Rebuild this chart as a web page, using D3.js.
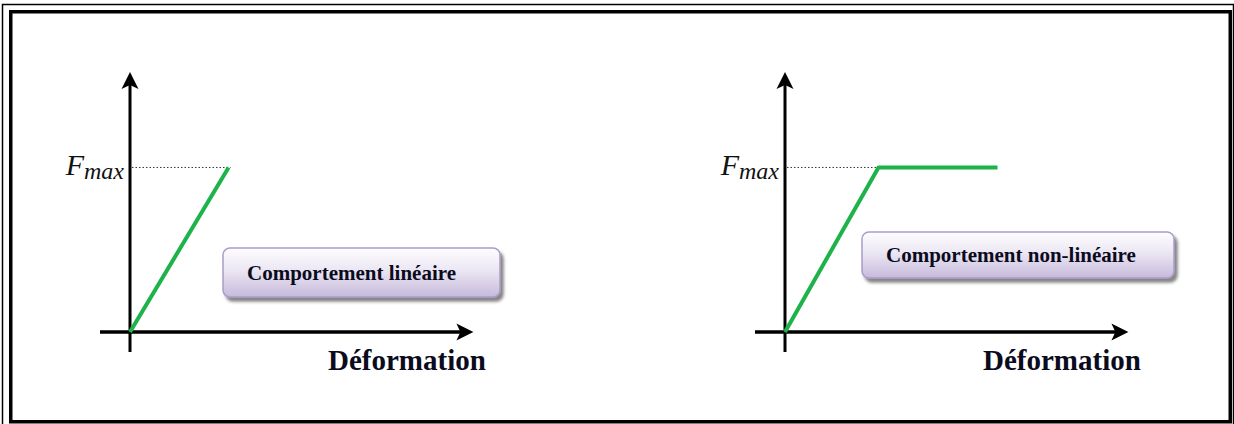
<!DOCTYPE html>
<html>
<head>
<meta charset="utf-8">
<script src="https://cdn.jsdelivr.net/npm/d3@7"></script>
<style>
  body { margin: 0; background: #fff; }
  svg { display: block; }
  .box-text { font-family: "Liberation Serif", "Times New Roman", serif; font-weight: bold; font-size: 21px; fill: #0b0b1e; }
  .axis-label { font-family: "Liberation Serif", "Times New Roman", serif; font-weight: bold; font-size: 29px; fill: #0b0b1e; }
  .fmax { font-family: "Liberation Serif", "Times New Roman", serif; font-style: italic; fill: #111; }
</style>
</head>
<body>
<div id="chart"></div>
<script>
// data
var panelTitles = ["Comportement linéaire", "Comportement non-linéaire"];
var axisLabel = "Déformation";
var forceLabel = "F", forceSub = "max";
var linearDeformation = [0, 2.9];
var linearForce = [0, 1];
var nonLinearDeformation = [0, 2.75, 6.25];
var nonLinearForce = [0, 1, 1];
var fMax = 1;

var width = 1234, height = 424;

var svg = d3.select("#chart").append("svg")
    .attr("width", width)
    .attr("height", height);

var defs = svg.append("defs");

var grad = defs.append("linearGradient")
    .attr("id", "boxGrad")
    .attr("x1", 0).attr("y1", 0).attr("x2", 0).attr("y2", 1);
grad.append("stop").attr("offset", "0%").attr("stop-color", "#fefdff");
grad.append("stop").attr("offset", "45%").attr("stop-color", "#ece7f3");
grad.append("stop").attr("offset", "100%").attr("stop-color", "#c6badb");

var shadow = defs.append("filter")
    .attr("id", "shadow")
    .attr("x", "-10%").attr("y", "-20%")
    .attr("width", "130%").attr("height", "160%");
shadow.append("feDropShadow")
    .attr("dx", 3).attr("dy", 4)
    .attr("stdDeviation", 1.5)
    .attr("flood-color", "#444")
    .attr("flood-opacity", 0.65);

// double frame
svg.append("rect")
    .attr("x", 2.5).attr("y", 4.5)
    .attr("width", 1231).attr("height", 430)
    .attr("fill", "none")
    .attr("stroke", "#000")
    .attr("stroke-width", 1.5);
svg.append("rect")
    .attr("x", 10.75).attr("y", 11.75)
    .attr("width", 1219.5).attr("height", 410)
    .attr("fill", "none")
    .attr("stroke", "#000")
    .attr("stroke-width", 3.5);

// scales shared by both panels (local to each panel's origin)
var x = d3.scaleLinear().domain([0, 10]).range([0, 340]);
var y = d3.scaleLinear().domain([0, 1.58]).range([332, 72]);

var panels = [
  {ox: 130, xs: linearDeformation, ys: linearForce, title: panelTitles[0],
   box: {x: 223, y: 248, w: 277, h: 49}, labelX: 328},
  {ox: 785, xs: nonLinearDeformation, ys: nonLinearForce, title: panelTitles[1],
   box: {x: 862, y: 232, w: 312, h: 46}, labelX: 983}
];

panels.forEach(function (p) {
    var g = svg.append("g")
        .attr("transform", "translate(" + p.ox + ",0)");

    var x0 = x(0), yTop = y(1.58), y0 = y(0);
    var xEnd = x(10.1);

    // axes
    g.append("line")
        .attr("x1", x0).attr("x2", x0)
        .attr("y1", y0 + 20).attr("y2", yTop + 12)
        .attr("stroke", "#000").attr("stroke-width", 3);
    g.append("line")
        .attr("x1", x0 - 30).attr("x2", xEnd - 12)
        .attr("y1", y0).attr("y2", y0)
        .attr("stroke", "#000").attr("stroke-width", 3.5);

    // arrow heads
    g.append("path")
        .attr("d", "M" + x0 + "," + yTop +
            "L" + (x0 + 8.5) + "," + (yTop + 17) +
            "L" + x0 + "," + (yTop + 13) +
            "L" + (x0 - 8.5) + "," + (yTop + 17) + "Z")
        .attr("fill", "#000");
    g.append("path")
        .attr("d", "M" + xEnd + "," + y0 +
            "L" + (xEnd - 17) + "," + (y0 - 8.5) +
            "L" + (xEnd - 13) + "," + y0 +
            "L" + (xEnd - 17) + "," + (y0 + 8.5) + "Z")
        .attr("fill", "#000");

    // Fmax dotted guide
    var peakX = x(p.xs[1]);
    g.append("line")
        .attr("x1", x0 + 2).attr("x2", peakX + 2)
        .attr("y1", y(fMax)).attr("y2", y(fMax))
        .attr("stroke", "#333")
        .attr("stroke-width", 1)
        .attr("stroke-dasharray", "1.5,2");

    // Fmax label
    var lab = g.append("text")
        .attr("class", "fmax")
        .attr("x", x0 - 6)
        .attr("y", y(fMax) + 8)
        .attr("text-anchor", "end");
    lab.append("tspan").attr("font-size", 30).text(forceLabel);
    lab.append("tspan").attr("font-size", 24).attr("dy", 4).text(forceSub);

    // response curve
    var line = d3.line()
        .x(function (d) { return x(d[0]); })
        .y(function (d) { return y(d[1]); });
    g.append("path")
        .datum(d3.zip(p.xs, p.ys))
        .attr("d", line)
        .attr("fill", "none")
        .attr("stroke", "#1db34a")
        .attr("stroke-width", 4)
        .attr("stroke-linejoin", "round");

    // x axis label
    svg.append("text")
        .attr("class", "axis-label")
        .attr("x", p.labelX)
        .attr("y", 370)
        .text(axisLabel);

    // title box
    svg.append("rect")
        .attr("x", p.box.x).attr("y", p.box.y)
        .attr("width", p.box.w).attr("height", p.box.h)
        .attr("rx", 7)
        .attr("fill", "url(#boxGrad)")
        .attr("stroke", "#ab9cc9")
        .attr("stroke-width", 1.5)
        .attr("filter", "url(#shadow)");
    svg.append("text")
        .attr("class", "box-text")
        .attr("x", p.box.x + 24)
        .attr("y", p.box.y + p.box.h / 2 + 7)
        .text(p.title);
});
</script>
</body>
</html>
